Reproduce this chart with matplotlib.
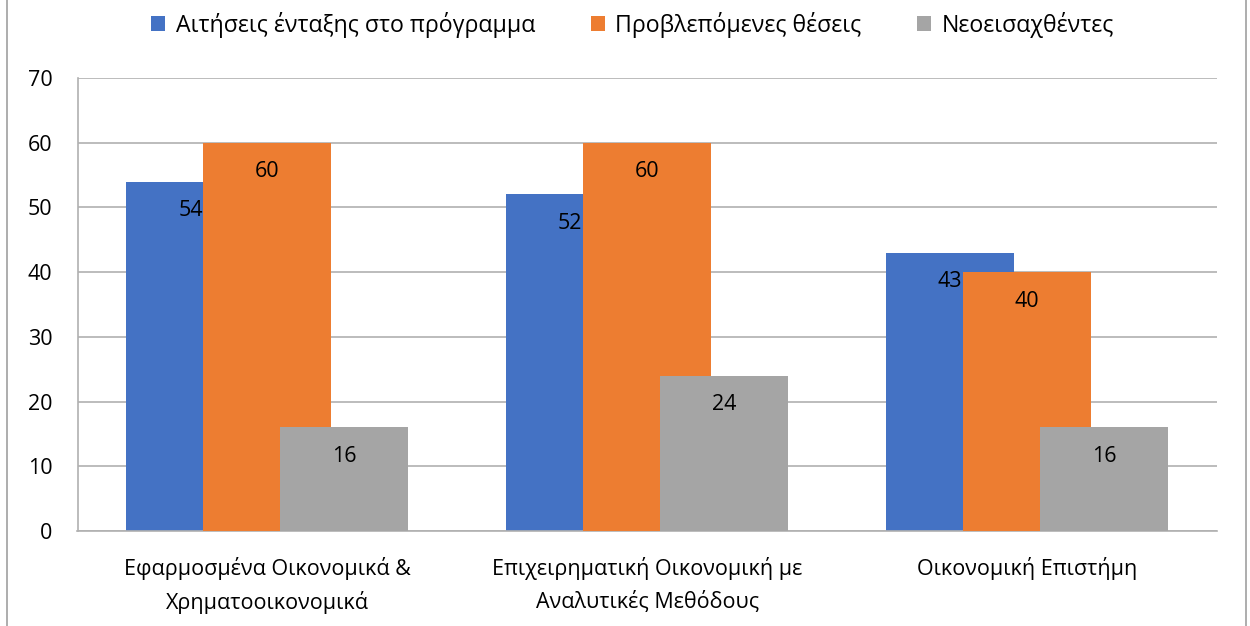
import numpy as np
import matplotlib.pyplot as plt
from matplotlib.lines import Line2D

plt.rcParams['font.family'] = ['Open Sans', 'DejaVu Sans']

categories = ['Εφαρμοσμένα Οικονομικά &\nΧρηματοοικονομικά',
              'Επιχειρηματική Οικονομική με\nΑναλυτικές Μεθόδους',
              'Οικονομική Επιστήμη']
series_names = ['Αιτήσεις ένταξης στο πρόγραμμα', 'Προβλεπόμενες θέσεις', 'Νεοεισαχθέντες']
applications = [54, 52, 43]
planned = [60, 60, 40]
admitted = [16, 24, 16]
colors = ['#4472C4', '#ED7D31', '#A5A5A5']

fig = plt.figure(figsize=(12.5, 6.26), dpi=100)
ax = fig.add_axes([77.5 / 1250, 95 / 626, (1217 - 77.5) / 1250, (531 - 78) / 626])

x = np.arange(len(categories))
width = 0.337
offset = 0.2026
handles = []
for i, (vals, col, name) in enumerate(zip([applications, planned, admitted], colors, series_names)):
    bars = ax.bar(x + (i - 1) * offset, vals, width, color=col, zorder=2 + i, label=name)
    handles.append(bars)
    for b, v in zip(bars, vals):
        ax.annotate(str(v), (b.get_x() + b.get_width() / 2, v), xytext=(0, -21),
                    textcoords='offset points', ha='center', va='center',
                    fontsize=15.5, color='black', zorder=2.5 + i)

ax.set_xlim(-0.5, 2.5)
ax.set_ylim(0, 70)
ax.set_yticks(range(0, 71, 10))
ax.yaxis.grid(True, color='#b0b0b0', linewidth=1.2, zorder=0)
ax.set_axisbelow(True)
ax.set_xticks(x)
ax.set_xticklabels(categories, fontsize=15.5, linespacing=1.6)
ax.tick_params(axis='x', length=0, pad=19)
ax.tick_params(axis='y', length=0, pad=18, labelsize=15.5)
for s in ['top', 'right']:
    ax.spines[s].set_visible(False)
for s in ['left', 'bottom']:
    ax.spines[s].set_color('#b0b0b0')
    ax.spines[s].set_linewidth(1.2)

fig.legend(handles=handles, labels=series_names, loc='center', bbox_to_anchor=(0.506, 1 - 25 / 626),
           ncol=3, frameon=False, fontsize=16.7, handlelength=0.6, handleheight=0.6,
           handletextpad=0.45, columnspacing=2.4)

fig.add_artist(Line2D([7 / 1250, 7 / 1250], [0, 1], color='#a0a0a0', linewidth=1.2))
fig.add_artist(Line2D([1246 / 1250, 1246 / 1250], [0, 1], color='#a0a0a0', linewidth=1.2))

fig.savefig('out.png', dpi=100)
